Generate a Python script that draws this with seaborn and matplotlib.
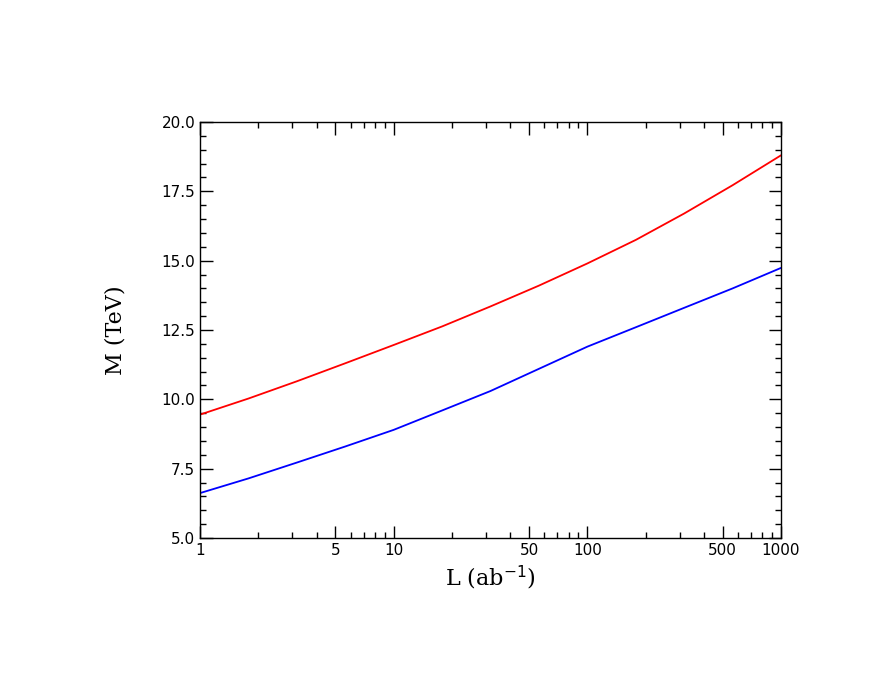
import matplotlib
matplotlib.use("Agg")
import matplotlib.pyplot as plt
import seaborn as sns
import numpy as np

sns.set_style("ticks")
plt.rcParams['font.family'] = ['DejaVu Sans']

L = [1, 1.78, 3.16, 5.62, 10, 17.8, 31.6, 56.2, 100, 178, 316, 562, 1000]
red = [9.45, 10.03, 10.65, 11.3, 11.96, 12.63, 13.35, 14.1, 14.9, 15.75, 16.7, 17.72, 18.8]
blue = [6.62, 7.15, 7.72, 8.3, 8.9, 9.6, 10.3, 11.1, 11.9, 12.6, 13.3, 14.0, 14.74]

fig = plt.figure(figsize=(8.96, 6.92), dpi=100)
ax = fig.add_axes([0.2232, 0.2225, 0.6485, 0.6012])
sns.lineplot(x=L, y=red, color='red', lw=1.3, ax=ax)
sns.lineplot(x=L, y=blue, color='blue', lw=1.3, ax=ax)
ax.set_xscale('log')
ax.set_xlim(1, 1000)
ax.set_ylim(5, 20)
ax.set_xticks([1, 5, 10, 50, 100, 500, 1000])
ax.set_xticklabels(['1', '5', '10', '50', '100', '500', '1000'])
ax.set_yticks(np.arange(5, 20.01, 2.5))
ax.set_yticklabels([f"{v:.1f}" for v in np.arange(5, 20.01, 2.5)])
ax.yaxis.set_minor_locator(matplotlib.ticker.MultipleLocator(0.5))
ax.tick_params(which='both', direction='in', top=True, right=True, labelsize=11,
               colors='black')
ax.tick_params(which='major', length=9, width=1)
ax.tick_params(which='minor', length=4.5, width=1)
for s in ax.spines.values():
    s.set_linewidth(1)
    s.set_color('black')
ax.set_xlabel(r'L (ab$^{-1}$)', fontsize=16, family='DejaVu Serif', color='black')
ax.set_ylabel('M (TeV)', fontsize=16, family='DejaVu Serif', labelpad=25, color='black')
fig.savefig('out.png', dpi=100)
